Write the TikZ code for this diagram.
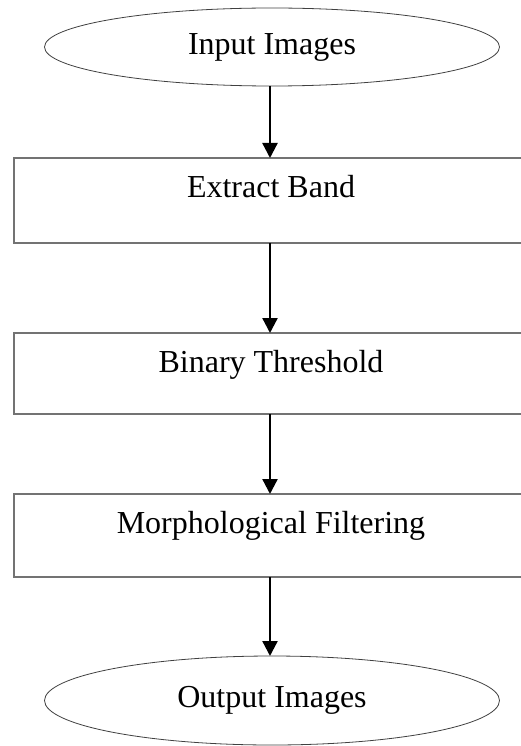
\documentclass[tikz,border=0pt]{standalone}
\usepackage{fontspec}
\setmainfont{Liberation Serif}
\usetikzlibrary{arrows.meta,shapes.geometric}

\begin{document}
\begin{tikzpicture}[
  x=1pt,
  y=-1pt,
  inner sep=0pt,
  outer sep=0pt,
  every node/.append style={font=\fontsize{32}{38}\selectfont},
  terminal/.style={
    ellipse,
    draw=black!75,
    line width=0.8pt,
    minimum width=455pt,
  },
  stepbox/.style={
    rectangle,
    draw=black!55,
    line width=1.1pt,
    anchor=base,
    minimum width=514pt,
    text height=39pt,
  },
  flow/.style={
    draw,
    line width=2.3pt,
    -{Triangle[length=15pt,width=15pt]},
  },
]
  \clip (0, 0) rectangle (521, 746);
  \useasboundingbox (0, 0) rectangle (521, 746);

  \node[terminal, minimum height=78pt] (input) at (272, 47) {Input Images};
  \node[stepbox, text depth=46pt] (extract) at (271, 197) {Extract Band};
  \node[stepbox, text depth=42pt] (binary) at (271, 372) {Binary Threshold};
  \node[stepbox, text depth=44pt] (morph) at (271, 533) {Morphological Filtering};
  \node[terminal, minimum height=89pt] (output) at (272, 700.5) {Output Images};

  \foreach \from/\to in {input/extract, extract/binary, binary/morph, morph/output} {
    \draw[flow] (\from.south -| 270, 0) -- (\to.north -| 270, 0);
  }
\end{tikzpicture}
\end{document}
